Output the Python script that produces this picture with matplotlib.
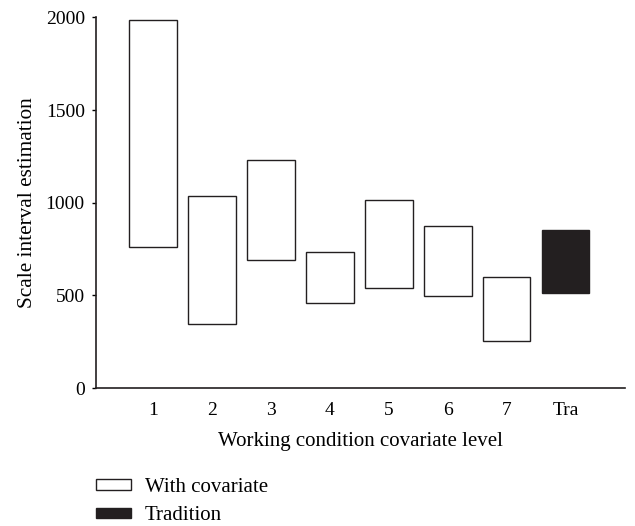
import numpy as np
import matplotlib.pyplot as plt
from matplotlib.patches import Patch

plt.rcParams['font.family'] = ['Liberation Serif', 'DejaVu Serif']

# interval bounds
levels = ['1', '2', '3', '4', '5', '6', '7', 'Tra']
lower = [760, 346, 691, 461, 542, 495, 252, 513]
upper = [1984, 1035, 1231, 734, 1013, 873, 598, 853]

x = np.arange(1, len(levels) + 1)
lower = np.array(lower)
upper = np.array(upper)
faces = ['white'] * 7 + ['#231f20']

fig = plt.figure(figsize=(6.35, 5.26), dpi=100)
ax = fig.add_axes([0.151, 0.262, 0.833, 0.705])

ax.bar(x, upper - lower, bottom=lower, width=0.8, color=faces,
       edgecolor='#231f20', linewidth=1.0)

ax.set_xlim(0.03, 9.0)
ax.set_ylim(0, 2000)
ax.set_xticks(x)
ax.set_xticklabels(levels)
ax.set_yticks([0, 500, 1000, 1500, 2000])
ax.tick_params(axis='x', length=0, pad=10, labelsize=14)
ax.tick_params(axis='y', length=3, width=1, pad=5, labelsize=14)
for s in ['top', 'right']:
    ax.spines[s].set_visible(False)
for s in ['left', 'bottom']:
    ax.spines[s].set_linewidth(1.2)
    ax.spines[s].set_color('#231f20')

ax.set_xlabel('Working condition covariate level', fontsize=15, labelpad=9)
ax.set_ylabel('Scale interval estimation', fontsize=15.3, labelpad=6)

handles = [Patch(facecolor='white', edgecolor='#231f20', linewidth=1.0, label='With covariate'),
           Patch(facecolor='#231f20', edgecolor='#231f20', linewidth=1.0, label='Tradition')]
fig.legend(handles=handles, loc='upper left', bbox_to_anchor=(0.151, 0.091),
           frameon=False, fontsize=15, handlelength=1.68, handleheight=0.4,
           handletextpad=0.67, labelspacing=0.44, borderaxespad=0, borderpad=0)

fig.savefig('out.png', dpi=100)
